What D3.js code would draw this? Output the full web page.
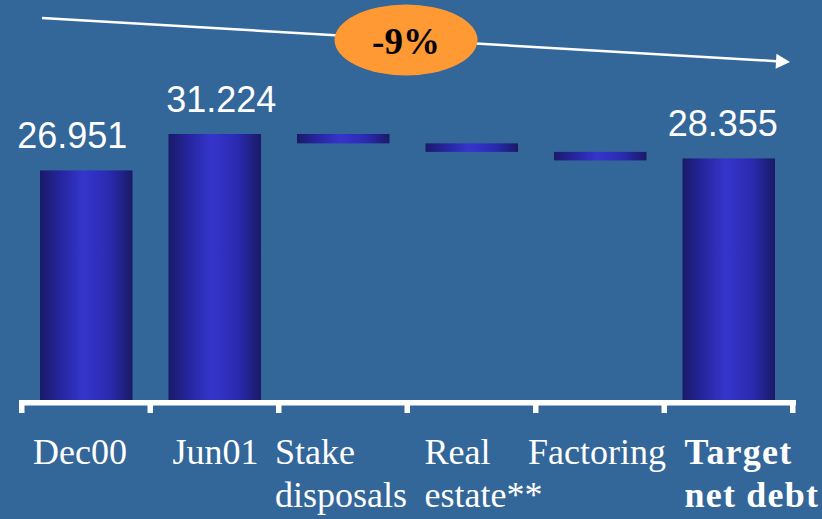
<!DOCTYPE html>
<html>
<head>
<meta charset="utf-8">
<script src="https://cdn.jsdelivr.net/npm/d3@7"></script>
<style>
  html, body { margin: 0; padding: 0; background: #336699; }
  svg { display: block; }
</style>
</head>
<body>
<svg id="chart" width="822" height="519"></svg>
<script>
// Net debt bridge (EUR bn)
const categories = ["Dec00", "Jun01", "Stake disposals", "Real estate**", "Factoring", "Target net debt"];
const labelLines = [["Dec00"], ["Jun01"], ["Stake", "disposals"], ["Real", "estate**"], ["Factoring"], ["Target", "net debt"]];
const barKinds   = ["total", "total", "step", "step", "step", "total"];
const values     = [26.951, 31.224, -1.1, -1.0, -1.0, 28.355];
const valueLabels = ["26.951", "31.224", null, null, null, "28.355"];
const changeLabel = "-9%";

// layout tweaks for the category and value text
const labelDx = [-7, 4, -22, -1, -26, 2];
const valueDx = [-14, 6.5, 0, 0, -6, -6];
const boldLabel = [false, false, false, false, false, true];

const W = 822, H = 519;
const svg = d3.select("#chart");
const baseY = 400;

const x = d3.scaleBand().domain(categories).range([22, 793]).paddingInner(0.28).paddingOuter(0.14);
const y = d3.scaleLinear().domain([0, 31.224]).range([baseY, 134]);

// bar gradient: dark edges, bright centre
const defs = svg.append("defs");
const grad = defs.append("linearGradient").attr("id", "barGrad")
  .attr("x1", "0%").attr("x2", "100%").attr("y1", "0%").attr("y2", "0%");
grad.append("stop").attr("offset", "0%").attr("stop-color", "#1a1a68");
grad.append("stop").attr("offset", "20%").attr("stop-color", "#24249a");
grad.append("stop").attr("offset", "47%").attr("stop-color", "#3535cc");
grad.append("stop").attr("offset", "75%").attr("stop-color", "#2a2ab0");
grad.append("stop").attr("offset", "100%").attr("stop-color", "#1a1a66");

// compute bar extents (totals from zero, steps floating from running level)
let level = 0;
const bars = categories.map((c, i) => {
  let lo, hi;
  if (barKinds[i] === "total") { lo = 0; hi = values[i]; level = values[i]; }
  else { hi = level; lo = level + values[i]; level = lo; }
  return { c, i, lo, hi };
});

svg.append("g").selectAll("rect").data(bars).join("rect")
  .attr("x", d => x(d.c))
  .attr("width", x.bandwidth())
  .attr("y", d => y(d.hi))
  .attr("height", d => y(d.lo) - y(d.hi))
  .attr("fill", "url(#barGrad)");

// value labels above total bars
svg.append("g").selectAll("text").data(bars.filter(d => valueLabels[d.i])).join("text")
  .attr("x", d => x(d.c) + x.bandwidth() / 2 + valueDx[d.i])
  .attr("y", d => y(d.hi) - 22)
  .attr("text-anchor", "middle")
  .attr("font-family", "'Liberation Sans', Arial, sans-serif")
  .attr("font-size", 36)
  .attr("fill", "#ffffff")
  .text(d => valueLabels[d.i]);

// baseline axis with ticks at category boundaries
const step = x.step();
const boundaries = d3.range(categories.length + 1).map(k => x.range()[0] + k * step);
const axisG = svg.append("g");
axisG.append("rect")
  .attr("x", boundaries[0] - 3).attr("y", baseY)
  .attr("width", boundaries[boundaries.length - 1] - boundaries[0] + 6).attr("height", 5.5)
  .attr("fill", "#ffffff");
axisG.selectAll("rect.tick").data(boundaries).join("rect").attr("class", "tick")
  .attr("x", b => b - 3).attr("y", baseY)
  .attr("width", 5.5).attr("height", 13)
  .attr("fill", "#ffffff");

// category labels
const lab = svg.append("g").selectAll("text").data(categories).join("text")
  .attr("x", (c, i) => x(c) + labelDx[i])
  .attr("y", 464)
  .attr("font-family", "'Liberation Serif', 'Times New Roman', serif")
  .attr("font-size", 36)
  .attr("font-weight", (c, i) => boldLabel[i] ? "bold" : "normal")
  .attr("letter-spacing", (c, i) => boldLabel[i] ? 1.2 : 0)
  .attr("fill", "#ffffff");
lab.each(function (c, i) {
  const t = d3.select(this);
  labelLines[i].forEach((ln, k) => {
    t.append("tspan").attr("x", x(c) + labelDx[i]).attr("dy", k === 0 ? 0 : 43).text(ln);
  });
});

// trend arrow with the overall change bubble
const ax0 = 42, ay0 = 18, ax1 = 790, ay1 = 62;
const ang = Math.atan2(ay1 - ay0, ax1 - ax0);
const headLen = 14, headHalf = 7.5;
const bx = ax1 - headLen * Math.cos(ang), by = ay1 - headLen * Math.sin(ang);
svg.append("line")
  .attr("x1", ax0).attr("y1", ay0).attr("x2", bx).attr("y2", by)
  .attr("stroke", "#ffffff").attr("stroke-width", 2.5);
svg.append("path")
  .attr("d", `M${ax1},${ay1} L${bx - headHalf * Math.sin(ang)},${by + headHalf * Math.cos(ang)} L${bx + headHalf * Math.sin(ang)},${by - headHalf * Math.cos(ang)} Z`)
  .attr("fill", "#ffffff");

svg.append("ellipse")
  .attr("cx", 406).attr("cy", 40).attr("rx", 71.5).attr("ry", 35.5)
  .attr("fill", "#ff9933");
svg.append("text")
  .attr("x", 406).attr("y", 54)
  .attr("text-anchor", "middle")
  .attr("font-family", "'Liberation Serif', 'Times New Roman', serif")
  .attr("font-weight", "bold")
  .attr("font-size", 37)
  .attr("fill", "#000000")
  .text(changeLabel);
</script>
</body>
</html>
